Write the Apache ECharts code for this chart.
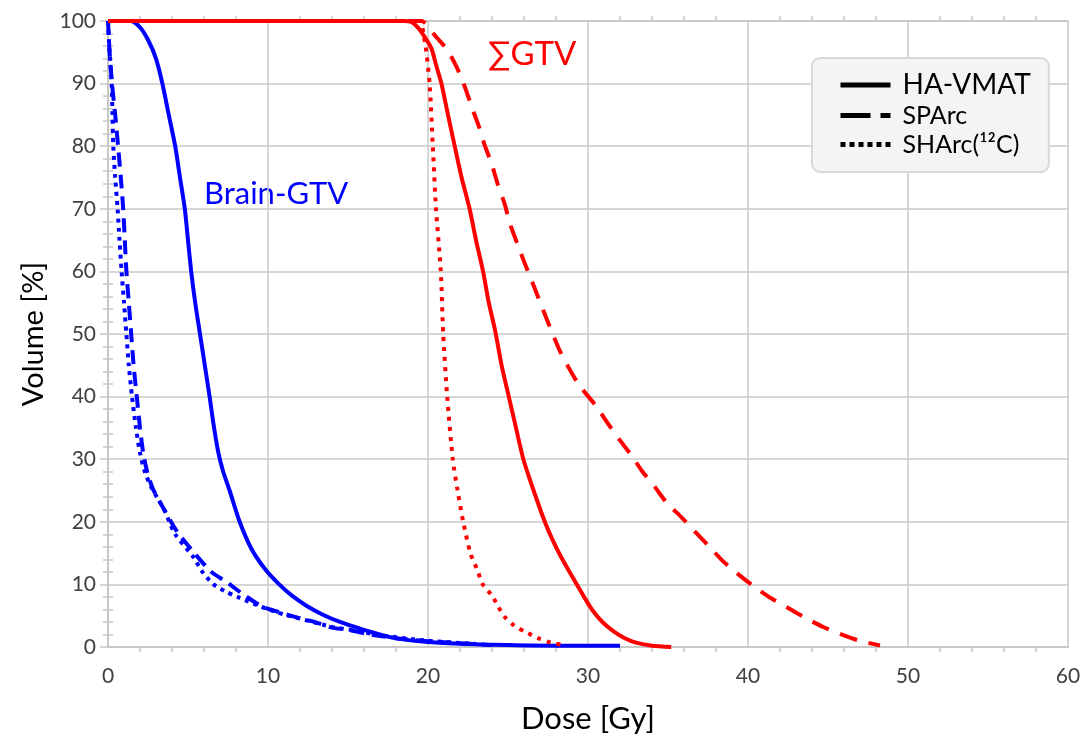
<!DOCTYPE html>
<html>
<head>
<meta charset="utf-8">
<script src="https://cdn.jsdelivr.net/npm/echarts@6/dist/echarts.min.js"></script>
<style>
html, body { margin: 0; padding: 0; background: #fff; }
#chart { width: 1084px; height: 739px; }
</style>
</head>
<body>
<div id="chart"></div>
<script>
// dose [Gy], volume [%] pairs
var brainVmat = [[0,100],[1.4,100],[2,99],[2.5,97],[3,94],[3.4,90],[3.8,85],[4.2,80],[4.5,75],[4.8,70],[5.0,65],[5.2,60],[5.45,55],[5.75,50],[6.05,45],[6.35,40],[6.6,35.5],[6.9,31],[7.2,28],[7.6,25],[8.23,20],[8.96,15.7],[9.8,12.5],[10.7,10],[11.5,8.2],[12.4,6.6],[13.4,5.2],[14.5,4.0],[15.8,2.9],[17.2,1.85],[18.2,1.3],[20,0.8],[22,0.5],[25,0.3],[28,0.2],[32,0.2]];
var brainSparc = [[0,100],[0.1,95],[0.25,90],[0.45,85],[0.63,80],[0.8,75],[0.95,70],[1.05,65],[1.15,60],[1.3,55],[1.45,50],[1.6,45],[1.8,40],[2.0,35],[2.2,31],[2.45,28],[2.8,25.3],[3.5,22],[4.3,18.5],[5.4,15],[6.46,12],[7.4,10.4],[8.4,8.5],[9.6,6.5],[10.4,5.8],[12.1,4.5],[12.8,4.1],[14,3.1],[15.1,2.7],[16.4,2],[18,1.4],[20,0.9],[22,0.6],[24,0.3]];
var brainSharc = [[0,100],[0.1,95],[0.23,90],[0.28,85],[0.33,80],[0.45,75],[0.6,70],[0.72,65],[0.85,60],[1.0,55],[1.15,50],[1.3,45],[1.5,40],[1.75,35],[2.0,31],[2.3,28],[2.75,25.3],[3.5,22],[4.2,18],[5.3,14.5],[5.9,12],[6.6,10],[7.4,8.8],[8.1,8],[9.6,6.4],[11,5.2],[12.5,4.2],[14,3.2],[15.5,2.6],[17,1.9],[20,1.0],[23,0.5]];

var gtvVmat = [[0,100],[18.5,100],[18.9,99.9],[19.2,99.4],[19.6,98.2],[20.2,95.7],[20.5,93],[20.84,90],[21.25,85],[21.67,80],[22.1,75],[22.6,70],[23.0,65],[23.44,60],[23.8,55],[24.2,50.5],[24.6,45],[25.05,40],[25.5,35],[25.96,30],[26.6,25],[27.3,20],[27.75,17.3],[28.25,14.7],[28.8,12.2],[29.3,10],[29.8,7.8],[30.3,5.8],[30.9,4],[31.6,2.5],[32.3,1.4],[33,0.7],[34,0.2],[35.2,0]];
var gtvSparc = [[0,100],[19.6,100],[20.0,99.2],[20.4,97.8],[21.2,95.4],[21.8,92.6],[22.3,89.5],[22.7,86.5],[23.2,83],[23.5,80.5],[24.0,77],[24.35,74],[24.8,70.7],[25.1,67.8],[25.6,64.3],[26.0,61.6],[26.5,58.4],[27.4,52.5],[28.3,47],[29.4,42],[30.5,38.5],[31.3,35.5],[32,33],[32.75,30.5],[33.35,28.2],[34.2,25.5],[34.9,23.1],[35.85,20.7],[36.7,18.4],[37.6,16],[38.4,13.8],[39.5,11.4],[40.3,9.8],[41.5,7.7],[42.4,6.4],[43.7,4.5],[44.7,3.2],[45.75,2.1],[46.9,1.05],[48.25,0.25]];
var gtvSharc = [[0,100],[19.5,100],[19.7,98],[19.85,96],[20.1,90],[20.3,80],[20.5,70],[20.8,60],[20.95,50],[21.2,40],[21.55,30],[21.85,25],[22.2,20],[22.65,15],[23.1,12.2],[23.4,10.1],[24,8.2],[24.4,6.4],[24.8,4.8],[25.4,3.4],[26.1,2.4],[27,1.3],[27.7,0.7],[28.5,0.3]];

var legendNames = ['HA-VMAT', 'SPArc', 'SHArc(\u00b9\u00b2C)'];

var FONT = 'Lato, "Open Sans", sans-serif';
var GRID_COLOR = '#c8c8c8';
var RED = '#ff0000';
var BLUE = '#0000ff';

var chart = echarts.init(document.getElementById('chart'));

function curve(name, data, color, type){
	return {
		name: name,
		type: 'line',
		data: data,
		symbol: 'none',
		smooth: 0.25,
		silent: true,
		lineStyle: { color: color, width: 4, type: type }
	};
}

function legendDummy(name, type){
	return {
		name: name,
		type: 'line',
		data: [],
		symbol: 'none',
		itemStyle: { color: '#000' },
		lineStyle: { color: '#000', width: 5, type: type }
	};
}

var options = {
	animation: false,
	grid: { left: 108, right: 16, top: 21, bottom: 91, containLabel: false },
	legend: {
		orient: 'vertical',
		left: 812,
		top: 58,
		padding: [13, 18, 15, 26],
		itemGap: 4,
		itemWidth: 50,
		itemHeight: 14,
		backgroundColor: '#f4f4f4',
		borderColor: '#d8d8d8',
		borderWidth: 2,
		borderRadius: 8,
		selectedMode: false,
		itemStyle: { opacity: 0 },
		lineStyle: { width: 5 },
		data: [
			{ name: legendNames[0], textStyle: { fontSize: 28 } },
			{ name: legendNames[1], textStyle: { fontSize: 25 } },
			{ name: legendNames[2], textStyle: { fontSize: 25 } }
		],
		textStyle: { color: '#000', fontFamily: FONT, padding: [0, 0, 0, 7] }
	},
	xAxis: [{
		type: 'value', position: 'bottom', min: 0, max: 60, interval: 10,
		axisLine: { show: true, lineStyle: { color: GRID_COLOR, width: 2 } },
		axisTick: { show: false },
		minorTick: { show: true, splitNumber: 5, length: 5, lineStyle: { color: GRID_COLOR, width: 1.5 } },
		axisLabel: { show: false },
		splitLine: { show: true, lineStyle: { color: GRID_COLOR, width: 1.5 } }
	}, {
		type: 'value', position: 'bottom', offset: 7, min: 0, max: 60, interval: 10,
		name: 'Dose [Gy]', nameLocation: 'middle', nameGap: 49,
		nameTextStyle: { fontSize: 31, color: '#000', fontFamily: FONT },
		axisLine: { show: true, lineStyle: { color: GRID_COLOR, width: 2 } },
		axisTick: { show: false },
		axisLabel: { fontSize: 21, color: '#404040', fontFamily: FONT, margin: 12 },
		splitLine: { show: false }
	}, {
		type: 'value', position: 'top', min: 0, max: 60, interval: 10,
		axisLine: { show: true, lineStyle: { color: GRID_COLOR, width: 2 } },
		axisTick: { show: false },
		minorTick: { show: true, splitNumber: 5, length: 5, lineStyle: { color: GRID_COLOR, width: 1.5 } },
		axisLabel: { show: false },
		splitLine: { show: false }
	}],
	yAxis: [{
		type: 'value', position: 'left', min: 0, max: 100, interval: 10,
		name: 'Volume [%]', nameLocation: 'middle', nameGap: 56,
		nameTextStyle: { fontSize: 29, color: '#000', fontFamily: FONT },
		axisLine: { show: true, lineStyle: { color: GRID_COLOR, width: 2 } },
		axisTick: { show: true, inside: false, length: 8, lineStyle: { color: GRID_COLOR, width: 1.5 } },
		minorTick: { show: true, splitNumber: 5, length: 5, lineStyle: { color: GRID_COLOR, width: 1.5 } },
		axisLabel: { fontSize: 21, color: '#404040', fontFamily: FONT, margin: 12 },
		splitLine: { show: true, lineStyle: { color: GRID_COLOR, width: 1.5 } }
	}, {
		type: 'value', position: 'right', min: 0, max: 100, interval: 10,
		axisLine: { show: true, lineStyle: { color: GRID_COLOR, width: 2 } },
		axisTick: { show: false },
		minorTick: { show: true, splitNumber: 5, length: 5, lineStyle: { color: GRID_COLOR, width: 1.5 } },
		axisLabel: { show: false },
		splitLine: { show: false }
	}],
	graphic: [{
		type: 'text', left: 488, top: 38,
		style: { text: '\u2211GTV', fill: RED, font: '33px ' + FONT }
	}, {
		type: 'text', left: 204, top: 178,
		style: { text: 'Brain-GTV', fill: BLUE, font: '31px ' + FONT }
	}],
	series: [
		legendDummy(legendNames[0], 'solid'),
		legendDummy(legendNames[1], [30, 10]),
		legendDummy(legendNames[2], [5, 4]),
		curve('Brain-GTV SHArc', brainSharc, BLUE, [4, 5]),
		curve('Brain-GTV SPArc', brainSparc, BLUE, [14, 8]),
		curve('Brain-GTV HA-VMAT', brainVmat, BLUE, 'solid'),
		curve('GTV SHArc', gtvSharc, RED, [4, 6]),
		curve('GTV SPArc', gtvSparc, RED, [18, 12]),
		curve('GTV HA-VMAT', gtvVmat, RED, 'solid')
	]
};

chart.setOption(options);
</script>
</body>
</html>
